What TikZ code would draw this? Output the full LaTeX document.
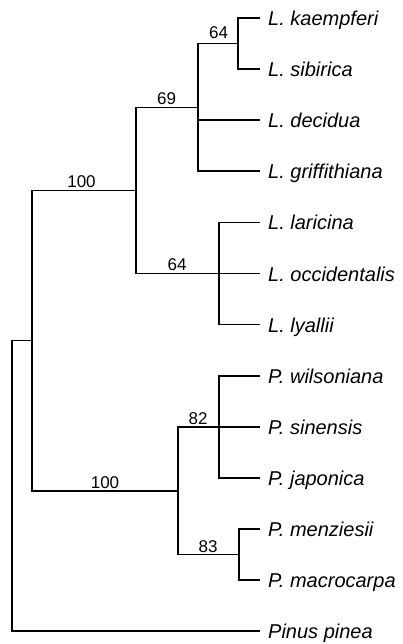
\documentclass[tikz,border=0pt]{standalone}
\usepackage{fontspec}
\setmainfont{Liberation Sans}
\begin{document}
\begin{tikzpicture}[x=1pt,y=-1pt,
  branch/.style={line width=1.7pt,line cap=rect},
  taxon/.style={anchor=base west,inner sep=0pt,font=\fontsize{20}{20}\selectfont\itshape},
  support/.style={anchor=base,inner sep=0pt,font=\fontsize{17}{17}\selectfont}]
\useasboundingbox (0,0) rectangle (403,644);

% leaf tips (end of terminal branches)
\foreach \i/\n in {0/kae,1/sib,2/dec,3/gri,4/lar,5/occ,6/lya,7/wil,8/sin,9/jap,10/men,11/mac,12/pin}{
  \coordinate (t\n) at (259,{18+51.1*\i});
}

% taxon names
\foreach \n/\txt in {kae/L. kaempferi,sib/L. sibirica,dec/L. decidua,gri/L. griffithiana,
  lar/L. laricina,occ/L. occidentalis,lya/L. lyallii,wil/P. wilsoniana,sin/P. sinensis,
  jap/P. japonica,men/P. menziesii,mac/P. macrocarpa,pin/Pinus pinea}{
  \node[taxon] (l\n) at ([xshift=9pt,yshift=-7.5pt]t\n) {\txt};
}

% internal nodes (x of vertical bar, y of stem)
\coordinate (nR)   at (12,340.6);
\coordinate (nA)   at (32,340.6);
\coordinate (nL)   at (136,190.5);
\coordinate (n69)  at (198,107.4);
\coordinate (n64a) at (238,43.5);
\coordinate (n64b) at (219,273.5);
\coordinate (nP)   at (178,490.7);
\coordinate (n82)  at (219,426.8);
\coordinate (n83)  at (239,554.6);

% branches
\draw[branch] (nR) -- (nA);
\draw[branch] (nR) |- (tpin);
\draw[branch] (nA) |- (nL);
\draw[branch] (nA) |- (nP);
\draw[branch] (nL) |- (n69);
\draw[branch] (nL) |- (n64b);
\draw[branch] (n69) |- (n64a);
\draw[branch] (n69) |- (tdec);
\draw[branch] (n69) |- (tgri);
\draw[branch] (n64a) |- (tkae);
\draw[branch] (n64a) |- (tsib);
\draw[branch] (n64b) |- (tlar);
\draw[branch] (n64b) |- (tocc);
\draw[branch] (n64b) |- (tlya);
\draw[branch] (nP) |- (n82);
\draw[branch] (nP) |- (n83);
\draw[branch] (n82) |- (twil);
\draw[branch] (n82) |- (tsin);
\draw[branch] (n82) |- (tjap);
\draw[branch] (n83) |- (tmen);
\draw[branch] (n83) |- (tmac);

% bootstrap support values
\node[support] (s64a) at (218.5,39) {64};
\node[support] (s69)  at (166.5,105) {69};
\node[support] (sL)   at (81.5,188) {100};
\node[support] (s64b) at (177,270.5) {64};
\node[support] (s82)  at (198,424.5) {82};
\node[support] (sP)   at (105,488.5) {100};
\node[support] (s83)  at (208,552) {83};
\end{tikzpicture}
\end{document}
